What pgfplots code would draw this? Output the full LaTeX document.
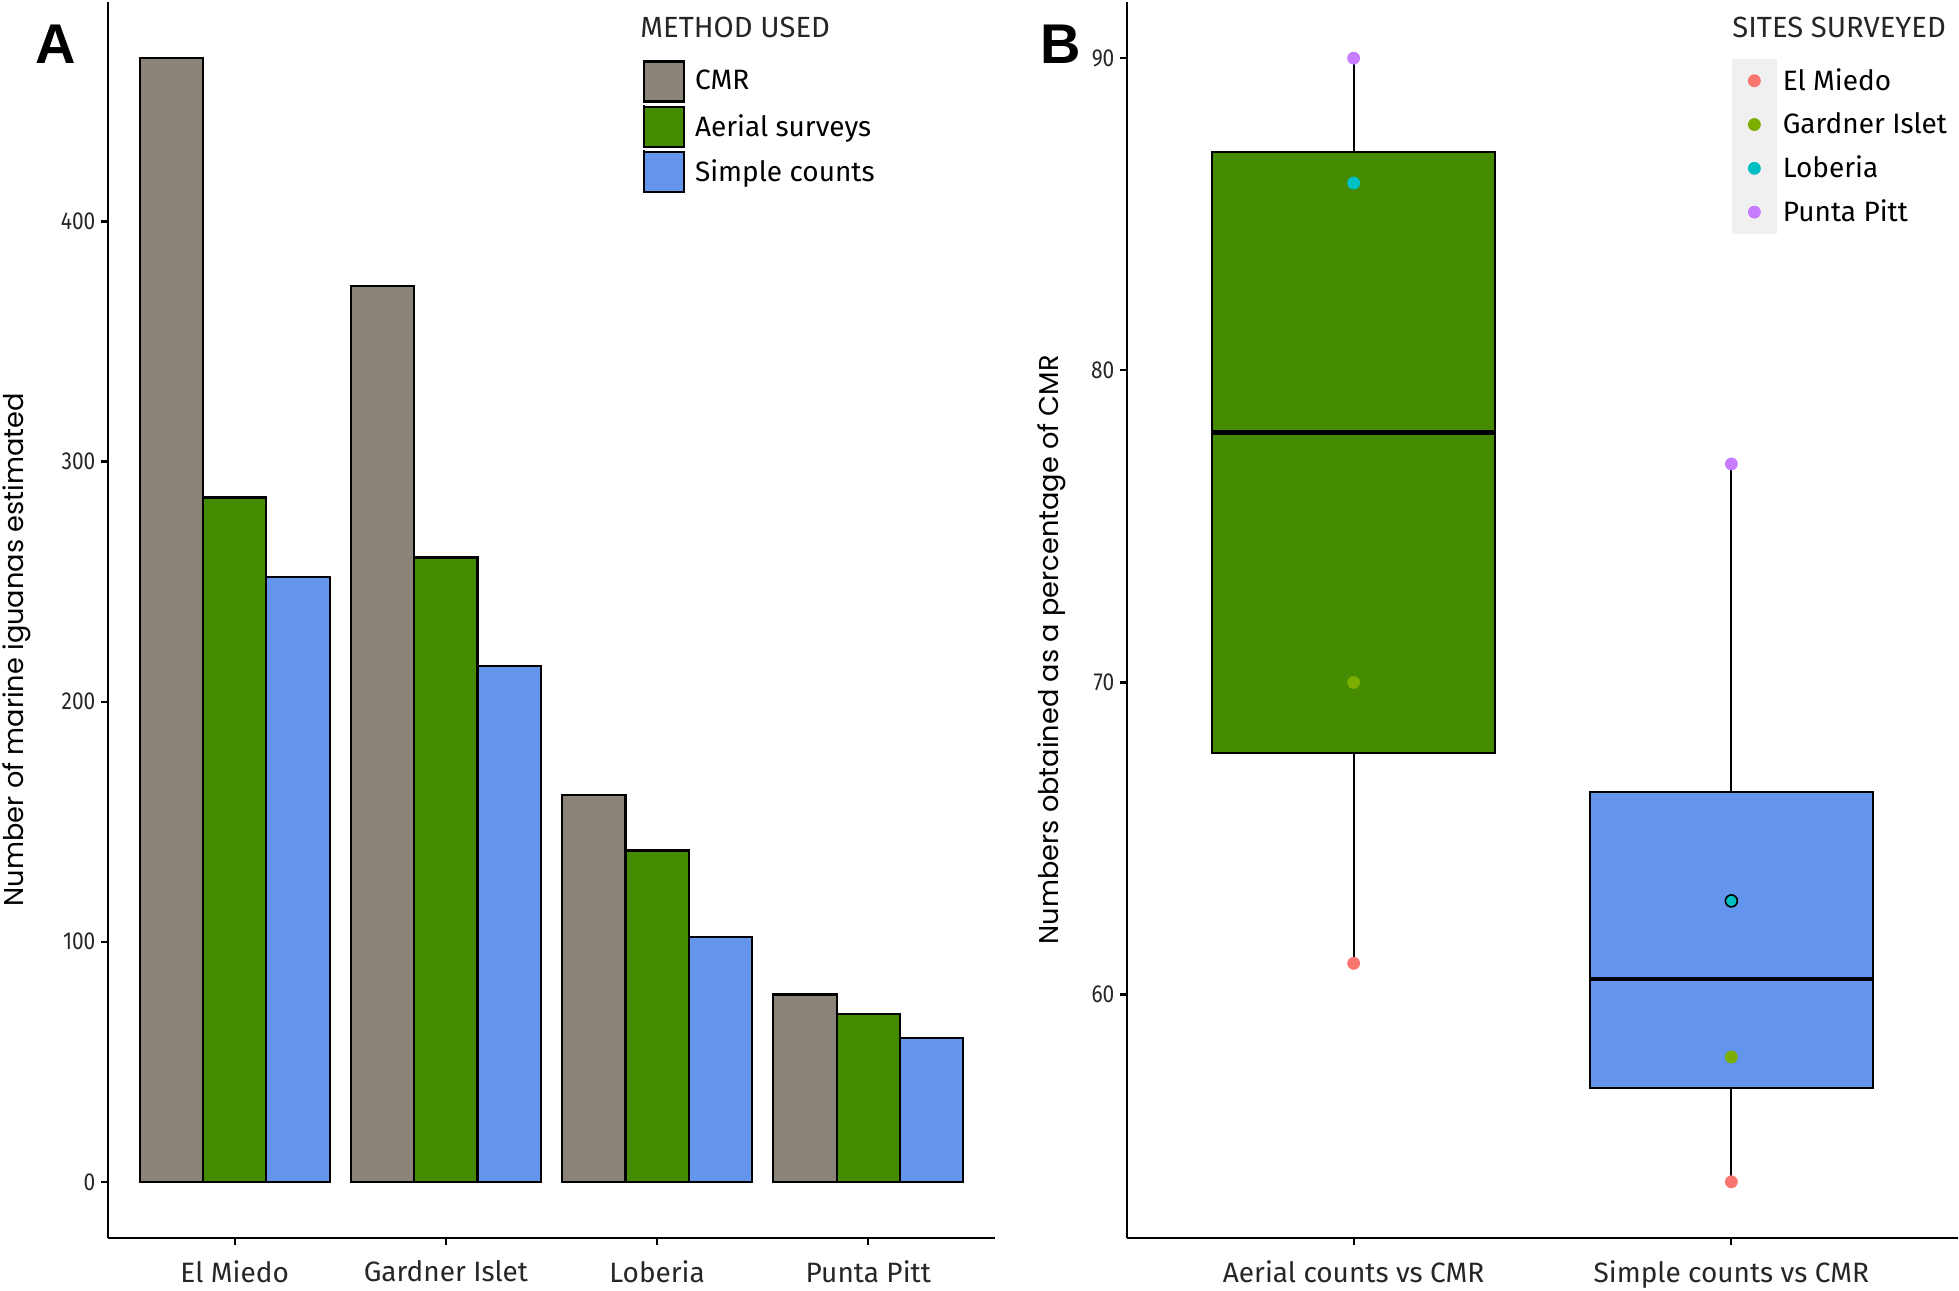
\documentclass[border=0pt]{standalone}
\usepackage{pgfplots}
\pgfplotsset{compat=1.18}
\usepackage{fontspec}
\setmainfont{Fira Sans}
\newfontfamily\tickfont[FakeStretch=0.85]{Fira Sans}
\newfontfamily\titlefont{Poppins}
\newfontfamily\letterfont{Liberation Sans}
\definecolor{cmr}{HTML}{8B8378}
\definecolor{aer}{HTML}{458B00}
\definecolor{sim}{HTML}{6495ED}
\definecolor{s1}{HTML}{F8766D}
\definecolor{s2}{HTML}{7CAE00}
\definecolor{s3}{HTML}{00BFC4}
\definecolor{s4}{HTML}{C77CFF}
\definecolor{keybg}{HTML}{F0F0F0}

\pgfplotsset{
  common/.style={
    scale only axis, height=618pt,
    axis x line*=bottom, axis y line*=left,
    axis line style={line width=1.1pt, -},
    tick align=outside, major tick length=3.5pt,
    tick style={line width=1.1pt, black},
    /pgf/number format/assume math mode=true,
    yticklabel style={font=\tickfont\fontsize{12.3}{14}\selectfont, text=black!85, inner sep=2.6pt},
    xticklabel style={font=\fontsize{14}{16}\selectfont, text=black!85, inner sep=0pt, yshift=-7.5pt},
    ylabel style={font=\titlefont\fontsize{13.6}{15}\selectfont},
    clip=false,
  },
  barkey/.style={legend image code/.code={
      \draw[fill=#1, draw=black, line width=1.1pt] (0pt,-10pt) rectangle (20pt,10pt);
      \path (0pt,-10.75pt) -- (0pt,10.75pt);}},
  ptkey/.style={legend image code/.code={
      \fill[keybg] (0pt,-10.75pt) rectangle (22pt,10.75pt);
      \fill[#1] (11pt,0pt) circle (3pt);}},
  pt/.style={only marks, mark=*, mark size=3pt, color=#1, mark options={draw=#1, fill=#1}, ptkey=#1},
}

\begin{document}
\begin{tikzpicture}
\useasboundingbox (0,0) rectangle (979.5pt,645pt);

% ---------------- Panel A ----------------
\begin{axis}[common,
  at={(54pt,26pt)}, anchor=south west, width=443.5pt,
  xmin=0.4, xmax=4.6, ymin=-23.4, ymax=491.4,
  xtick={1,2,3,4}, xticklabels={El Miedo, Gardner Islet, Loberia, Punta Pitt},
  ytick={0,100,200,300,400},
  ybar, bar width=0.3,
  ylabel={Number of marine iguanas estimated},
  ylabel style={at={(axis description cs:-0.103,0.476)}, anchor=center},
  legend style={draw=none, fill=none, at={(0.603,0.954)}, anchor=north west,
    inner sep=0pt, outer sep=0pt, row sep=0pt, column sep=5pt,
    font=\fontsize{14}{16}\selectfont, nodes={inner sep=0pt}},
  legend cell align=left,
]
\addplot[fill=cmr, draw=black, line width=1.1pt, bar shift=-0.3, barkey=cmr]
  coordinates {(1,468) (2,373) (3,161) (4,78)};
\addlegendentry{CMR}
\addplot[fill=aer, draw=black, line width=1.1pt, bar shift=0, barkey=aer]
  coordinates {(1,285) (2,260) (3,138) (4,70)};
\addlegendentry{Aerial surveys}
\addplot[fill=sim, draw=black, line width=1.1pt, bar shift=0.3, barkey=sim]
  coordinates {(1,252) (2,215) (3,102) (4,60)};
\addlegendentry{Simple counts}
\node[anchor=base west, inner sep=0pt, font=\fontsize{14.6}{16}\selectfont, text=black!85] at (axis description cs:0.5998,0.971) {METHOD USED};
\node[font=\letterfont\bfseries\fontsize{28}{30}\selectfont] at (axis description cs:-0.0586,0.966) {A};
\end{axis}

% ---------------- Panel B ----------------
\begin{axis}[common,
  at={(563.5pt,26pt)}, anchor=south west, width=415.5pt,
  xmin=0.4, xmax=2.6, ymin=52.2, ymax=91.8,
  xtick={1,2}, xticklabels={Aerial counts vs CMR, Simple counts vs CMR},
  ytick={60,70,80,90},
  ylabel={Numbers obtained as a percentage of CMR},
  ylabel style={at={(axis description cs:-0.09,0.476)}, anchor=center},
  legend style={draw=none, fill=none, at={(0.728,0.954)}, anchor=north west,
    inner sep=0pt, outer sep=0pt, row sep=0pt, column sep=3pt,
    font=\fontsize{14}{16}\selectfont, nodes={inner sep=0pt}},
  legend cell align=left,
]
% Aerial counts vs CMR: whiskers 61-90, box 67.75-87, median 78
\addplot[black, line width=1pt, forget plot] coordinates {(1,61) (1,67.75)};
\addplot[black, line width=1pt, forget plot] coordinates {(1,87) (1,90)};
\addplot[fill=aer, draw=black, line width=1pt, forget plot]
  coordinates {(0.625,67.75) (1.375,67.75) (1.375,87) (0.625,87)} -- cycle;
\addplot[black, line width=2.4pt, forget plot] coordinates {(0.625,78) (1.375,78)};
% Simple counts vs CMR: whiskers 54-77, box 57-66.5, median 60.5
\addplot[black, line width=1pt, forget plot] coordinates {(2,54) (2,57)};
\addplot[black, line width=1pt, forget plot] coordinates {(2,66.5) (2,77)};
\addplot[fill=sim, draw=black, line width=1pt, forget plot]
  coordinates {(1.625,57) (2.375,57) (2.375,66.5) (1.625,66.5)} -- cycle;
\addplot[black, line width=2.4pt, forget plot] coordinates {(1.625,60.5) (2.375,60.5)};
% site points
\addplot[pt=s1] coordinates {(1,61) (2,54)};
\addlegendentry{El Miedo}
\addplot[pt=s2] coordinates {(1,70) (2,58)};
\addlegendentry{Gardner Islet}
\addplot[pt=s3] coordinates {(1,86)};
\addlegendentry{Loberia}
\addplot[pt=s4] coordinates {(1,90) (2,77)};
\addlegendentry{Punta Pitt}
\addplot[forget plot, only marks, mark=*, mark size=3pt, mark options={fill=s3, draw=black, line width=0.8pt}] coordinates {(2,63)};
\node[anchor=base west, inner sep=0pt, font=\fontsize{14.6}{16}\selectfont, text=black!85] at (axis description cs:0.728,0.971) {SITES SURVEYED};
\node[font=\letterfont\bfseries\fontsize{28}{30}\selectfont] at (axis description cs:-0.0794,0.966) {B};
\end{axis}
\end{tikzpicture}
\end{document}
